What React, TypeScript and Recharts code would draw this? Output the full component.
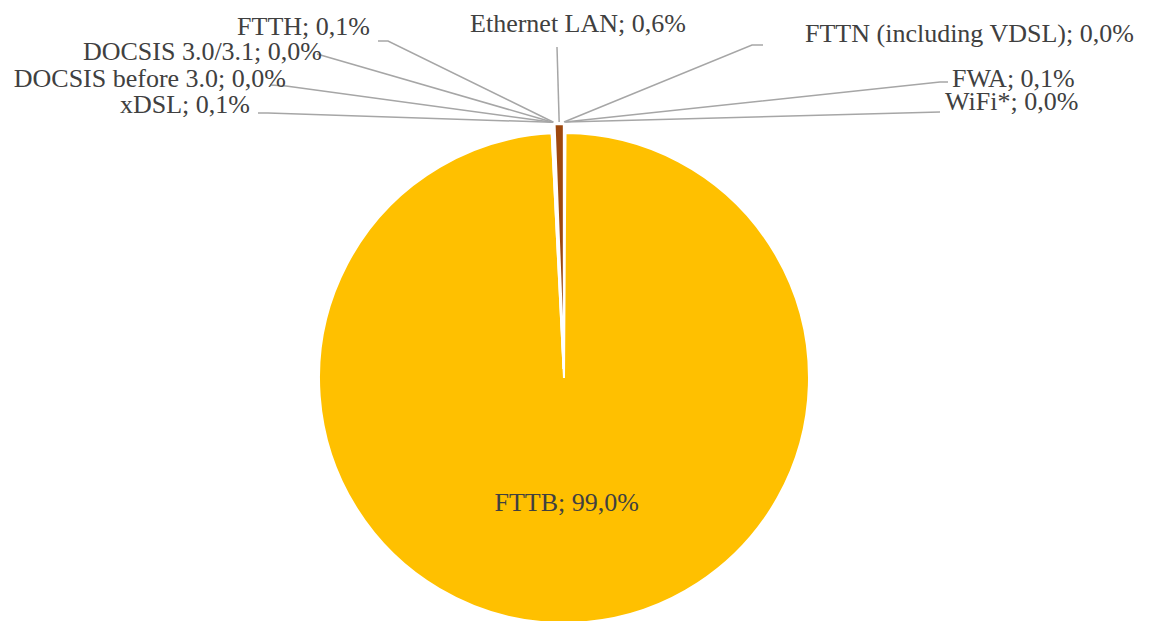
import React from 'react';
import { PieChart, Pie, Cell, Sector } from 'recharts';

// Data (clockwise from 12 o'clock)
const NAMES = [
  'FTTN (including VDSL)',
  'FWA',
  'WiFi*',
  'FTTB',
  'xDSL',
  'DOCSIS before 3.0',
  'DOCSIS 3.0/3.1',
  'FTTH',
  'Ethernet LAN',
];
const SHARES = [0.0, 0.1, 0.0, 99.0, 0.1, 0.0, 0.0, 0.1, 0.6];
const COLORS = ['#70AD47', '#264478', '#636363', '#FFC000', '#4472C4', '#ED7D31', '#A5A5A5', '#5B9BD5', '#9E480E'];

// Layout of the outside labels (text anchor, leader elbow/end)
type LabelLayout = { tx: number; ty: number; anchor: 'start' | 'end' | 'middle'; ex: number; ey: number; bx: number; by: number } | null;
const LABEL_LAYOUT: LabelLayout[] = [
  { tx: 805, ty: 41.5, anchor: 'start', ex: 763, ey: 45, bx: 752, by: 45 },
  { tx: 952, ty: 87, anchor: 'start', ex: 948, ey: 82, bx: 940, by: 82 },
  { tx: 945, ty: 110, anchor: 'start', ex: 940, ey: 112, bx: 940, by: 112 },
  null,
  { tx: 250, ty: 113, anchor: 'end', ex: 258, ey: 113, bx: 268, by: 113 },
  { tx: 286, ty: 87, anchor: 'end', ex: 270, ey: 85, bx: 286, by: 86 },
  { tx: 322, ty: 59.5, anchor: 'end', ex: 317, ey: 54, bx: 317, by: 54 },
  { tx: 370, ty: 34.5, anchor: 'end', ex: 378, ey: 41, bx: 388, by: 41 },
  { tx: 578, ty: 31.7, anchor: 'middle', ex: 557, ey: 47, bx: 557, by: 47 },
];

const data = NAMES.map((name, i) => ({ name, value: SHARES[i] }));

const FONT = '"Liberation Serif", "Times New Roman", serif';
const TEXT_COLOR = '#404040';
const LINE_COLOR = '#A6A6A6';
const EXPLODE = 9;
const RAD = Math.PI / 180;

const fmt = (v: number) => v.toFixed(1).replace('.', ',') + '%';

const renderSector = (props: any) => {
  const name = props?.payload?.name ?? props?.name;
  const off = name === 'FTTB' ? 0 : EXPLODE;
  const dx = off * Math.cos(-props.midAngle * RAD);
  const dy = off * Math.sin(-props.midAngle * RAD);
  return <Sector {...props} cx={props.cx + dx} cy={props.cy + dy} />;
};

const renderLabel = (props: any) => {
  const { cx, cy, midAngle, outerRadius, index } = props;
  const name = NAMES[index];
  const value = SHARES[index];
  const text = `${name}; ${fmt(value)}`;
  const layout = LABEL_LAYOUT[index];
  if (!layout) {
    const r = outerRadius * 0.51;
    const x = cx + r * Math.cos(-midAngle * RAD);
    const y = cy + r * Math.sin(-midAngle * RAD);
    return (
      <text x={x} y={y} textAnchor="middle" dominantBaseline="central" fill={TEXT_COLOR} fontFamily={FONT} fontSize={26}>
        {text}
      </text>
    );
  }
  const r = outerRadius + EXPLODE + 2;
  const sx = cx + r * Math.cos(-midAngle * RAD);
  const sy = cy + r * Math.sin(-midAngle * RAD);
  return (
    <g>
      <polyline
        points={`${sx},${sy} ${layout.bx},${layout.by} ${layout.ex},${layout.ey}`}
        fill="none"
        stroke={LINE_COLOR}
        strokeWidth={1.5}
      />
      <text x={layout.tx} y={layout.ty} textAnchor={layout.anchor} fill={TEXT_COLOR} fontFamily={FONT} fontSize={26}>
        {text}
      </text>
    </g>
  );
};

export default function App() {
  return (
    <div style={{ position: 'absolute', left: 0, top: 0, width: 1152, height: 621, background: '#fff' }}>
      <PieChart width={1152} height={621} margin={{ top: 0, right: 0, bottom: 0, left: 0 }}>
        <Pie
          data={data}
          dataKey="value"
          nameKey="name"
          cx={564}
          cy={378}
          outerRadius={245}
          startAngle={90}
          endAngle={-270}
          stroke="#ffffff"
          strokeWidth={2}
          isAnimationActive={false}
          labelLine={false}
          label={renderLabel}
          shape={renderSector}
        >
          {data.map((d, i) => (
            <Cell key={d.name} fill={COLORS[i]} />
          ))}
        </Pie>
      </PieChart>
    </div>
  );
}
